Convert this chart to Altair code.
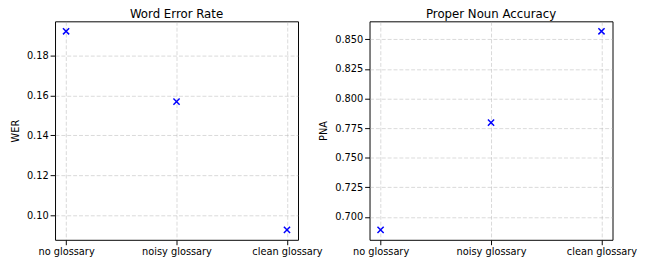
import altair as alt
import pandas as pd

categories = ["no glossary", "noisy glossary", "clean glossary"]
wer = [0.1923, 0.157, 0.0926]
pna = [0.689, 0.7796, 0.8568]

df = pd.DataFrame({"cat": categories, "WER": wer, "PNA": pna})

xpath = "M-1,-1L1,1M-1,1L1,-1"

def panel(field, title, domain, ticks, fmt):
    return alt.Chart(df, title=alt.TitleParams(title, fontSize=12, fontWeight="normal",
                                                font="DejaVu Sans", color="black", offset=0)).mark_point(
        shape=xpath, filled=False, color="#0000ff", size=40, strokeWidth=1.5, opacity=1
    ).encode(
        x=alt.X("cat:N", sort=categories, title=None,
                scale=alt.Scale(type="point", padding=0.1),
                axis=alt.Axis(labelAngle=0, grid=True)),
        y=alt.Y(f"{field}:Q", title=field,
                scale=alt.Scale(domain=domain, zero=False, nice=False),
                axis=alt.Axis(values=ticks, format=fmt, grid=True, titlePadding=6)),
    ).properties(width=248, height=223)

left = panel("WER", "Word Error Rate", [0.0876, 0.1973], [0.10, 0.12, 0.14, 0.16, 0.18], ".2f")
right = panel("PNA", "Proper Noun Accuracy", [0.6806, 0.8652], [0.700, 0.725, 0.750, 0.775, 0.800, 0.825, 0.850], ".3f")

chart = alt.hconcat(left, right, spacing=73, bounds="flush").properties(padding={"left": 2, "top": -3, "right": 0, "bottom": 0}).configure_view(
    stroke="black", strokeWidth=1
).configure_axis(
    labelFont="DejaVu Sans", titleFont="DejaVu Sans", labelFontSize=10, titleFontSize=10,
    titleFontWeight="normal", labelColor="black", titleColor="black",
    domain=False, tickColor="black", tickSize=5, labelPadding=2,
    gridColor="#b0b0b0", gridOpacity=0.6, gridDash=[4, 2], gridWidth=0.8,
).configure_title(anchor="middle")

chart.save("out.html", embed_options={"renderer": "svg", "actions": False})
